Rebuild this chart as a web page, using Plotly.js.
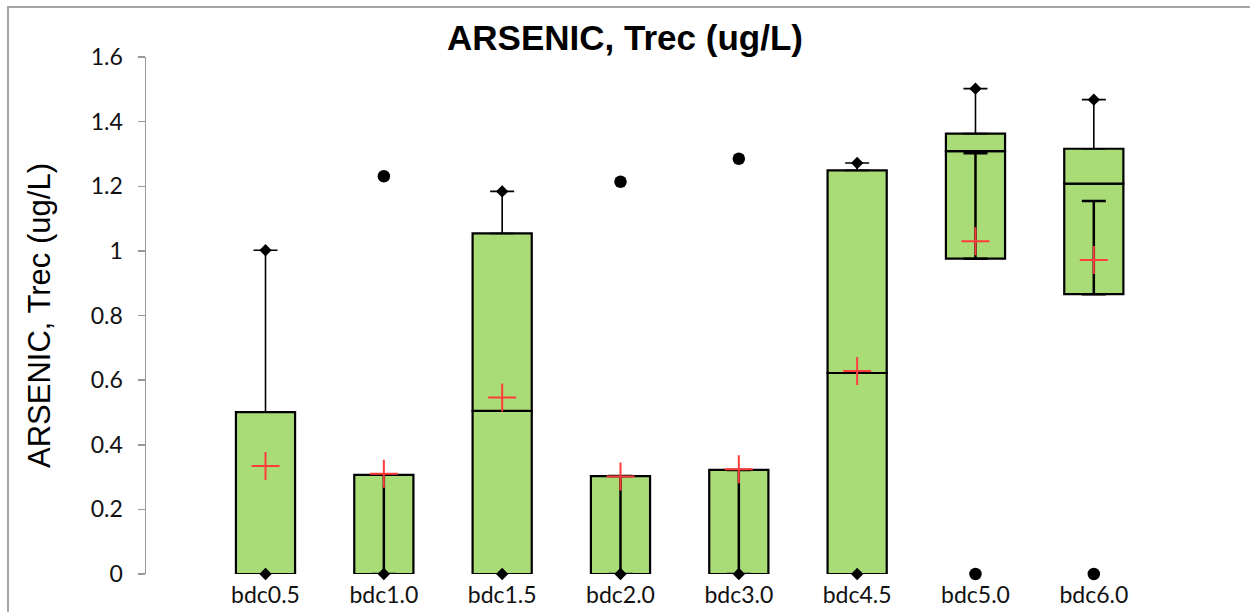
<!DOCTYPE html>
<html>
<head>
<meta charset="utf-8">
<script src="https://cdn.plot.ly/plotly-3.0.1.min.js"></script>
<style>html,body{margin:0;padding:0;background:#fff;}#chart{width:1250px;height:612px;}</style>
</head>
<body>
<div id="chart"></div>
<script>
// ---- data ----
var categories = ['bdc0.5','bdc1.0','bdc1.5','bdc2.0','bdc3.0','bdc4.5','bdc5.0','bdc6.0'];
var q1        = [0,     0,     0,     0,     0,     0,     0.976, 0.866];
var median    = [0,     0,     0.505, 0,     0,     0.622, 1.309, 1.208];
var q3        = [0.501, 0.307, 1.054, 0.303, 0.322, 1.249, 1.363, 1.316];
var whiskerMax = [1.002, null, 1.184, null, null, 1.272, 1.502, 1.468];
var whiskerMin = [0, 0, 0, 0, 0, 0, null, null];
var lowerTop    = [null, 0.307, null, 0.303, 0.322, null, 1.302, 1.154];
var lowerBottom = [null, 0,     null, 0,     0,     null, 0.976, 0.866];
var meanVals  = [0.334, 0.310, 0.546, 0.302, 0.324, 0.628, 1.030, 0.972];
var outlierCats = ['bdc1.0','bdc2.0','bdc3.0','bdc5.0','bdc6.0'];
var outlierVals = [1.231, 1.214, 1.285, 0, 0];
var yTicks = [0, 0.2, 0.4, 0.6, 0.8, 1, 1.2, 1.4, 1.6];

// ---- styles ----
var GREEN = '#A9DB76';
var RED = '#FF3D3D';

var lowBar = [], highBar = [];
for (var i = 0; i < categories.length; i++) {
  lowBar.push(median[i] - q1[i]);
  highBar.push(q3[i] - median[i]);
}
var upX = [], upY = [], upPlus = [];
var loX = [], loY = [], loMinus = [];
for (var j = 0; j < categories.length; j++) {
  if (whiskerMax[j] !== null) { upX.push(categories[j]); upY.push(q3[j]); upPlus.push(whiskerMax[j] - q3[j]); }
  if (lowerTop[j] !== null) { loX.push(categories[j]); loY.push(lowerTop[j]); loMinus.push(lowerTop[j] - lowerBottom[j]); }
}
var maxX = [], maxY = [];
for (var k = 0; k < categories.length; k++) {
  if (whiskerMax[k] !== null) { maxX.push(categories[k]); maxY.push(whiskerMax[k]); }
  if (whiskerMin[k] !== null) { maxX.push(categories[k]); maxY.push(whiskerMin[k]); }
}

var traces = [
  { type: 'bar', x: categories, y: lowBar, base: q1, width: 0.5, cliponaxis: false,
    marker: { color: GREEN, line: { color: '#000', width: 2.2 } }, hoverinfo: 'skip' },
  { type: 'bar', x: categories, y: highBar, base: median, width: 0.5, cliponaxis: false,
    marker: { color: GREEN, line: { color: '#000', width: 2.2 } }, hoverinfo: 'skip' },
  { type: 'scatter', mode: 'markers', x: loX, y: loY, cliponaxis: false,
    marker: { size: 1, color: 'rgba(0,0,0,0)' },
    error_y: { type: 'data', symmetric: false, array: loX.map(function(){return 0;}), arrayminus: loMinus,
               color: '#000', thickness: 2.5, width: 12 }, hoverinfo: 'skip' },
  { type: 'scatter', mode: 'markers', x: upX, y: upY, cliponaxis: false,
    marker: { size: 1, color: 'rgba(0,0,0,0)' },
    error_y: { type: 'data', symmetric: false, array: upPlus, arrayminus: upX.map(function(){return 0;}),
               color: '#000', thickness: 1.6, width: 12 }, hoverinfo: 'skip' },
  { type: 'scatter', mode: 'markers', x: maxX, y: maxY, cliponaxis: false,
    marker: { symbol: 'diamond', size: 9.5, color: '#000' }, hoverinfo: 'skip' },
  { type: 'scatter', mode: 'markers', x: outlierCats, y: outlierVals, cliponaxis: false,
    marker: { symbol: 'circle', size: 12.5, color: '#000' }, hoverinfo: 'skip' },
  { type: 'scatter', mode: 'markers', x: categories, y: meanVals, cliponaxis: false,
    marker: { symbol: 'cross-thin', size: 20, color: RED, line: { color: RED, width: 2 } }, hoverinfo: 'skip' }
];

var layout = {
  width: 1250, height: 612,
  margin: { l: 146, r: 0, t: 57, b: 38, pad: 0 },
  paper_bgcolor: '#fff', plot_bgcolor: 'rgba(0,0,0,0)',
  showlegend: false, barmode: 'overlay',
  title: { text: 'ARSENIC, Trec (ug/L)', x: 0.5, xref: 'container', xanchor: 'center',
           y: 0.938, yref: 'container', yanchor: 'middle',
           font: { family: 'Liberation Sans, Arial, sans-serif', size: 35, color: '#000', weight: 'bold' } },
  xaxis: { type: 'category', categoryorder: 'array', categoryarray: categories,
           range: [-1.01, 8.32], showline: false, showgrid: false, zeroline: false, ticks: '',
           ticklabelstandoff: 5,
           tickfont: { family: 'Lato, sans-serif', size: 23, color: '#111' }, fixedrange: true },
  yaxis: { range: [0, 1.6], tickvals: yTicks, showgrid: false, zeroline: false,
           showline: true, linecolor: '#999', linewidth: 1.5,
           ticks: 'outside', ticklen: 7, tickwidth: 1.5, tickcolor: '#999',
           ticklabelstandoff: 10,
           tickfont: { family: 'Lato, sans-serif', size: 23, color: '#111' },
           title: { text: 'ARSENIC, Trec (ug/L)', standoff: 31,
                    font: { family: 'Liberation Sans, Arial, sans-serif', size: 31, color: '#000' } },
           fixedrange: true },
  yaxis2: { range: [0, 1.6], tickvals: yTicks, overlaying: 'y', side: 'left', anchor: 'x',
            showgrid: false, zeroline: false, showline: false, showticklabels: false,
            ticks: 'inside', ticklen: 9, tickwidth: 1.5, tickcolor: '#999', fixedrange: true },
  shapes: [
    { type: 'rect', xref: 'paper', yref: 'paper', x0: -0.125, x1: 1.2, y0: -0.3, y1: 1.0967,
      line: { color: '#A6A6A6', width: 2 }, fillcolor: 'rgba(0,0,0,0)', layer: 'below' }
  ]
};

Plotly.newPlot('chart', traces, layout, { staticPlot: true, displayModeBar: false });
</script>
</body>
</html>
